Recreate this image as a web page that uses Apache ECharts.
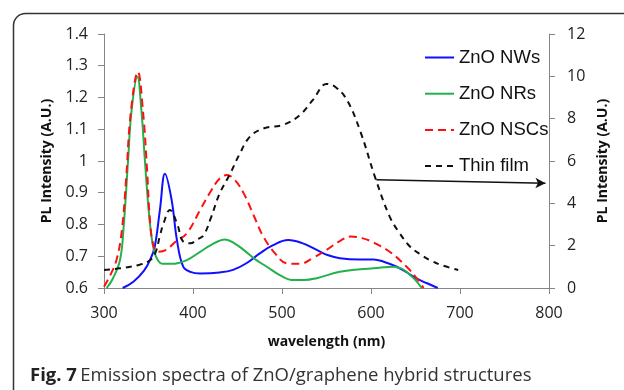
<!DOCTYPE html>
<html>
<head>
<meta charset="utf-8">
<script src="https://cdn.jsdelivr.net/npm/echarts@6/dist/echarts.min.js"></script>
<style>html,body{margin:0;padding:0;background:#fff;}#c{width:624px;height:390px;}</style>
</head>
<body>
<div id="c"></div>
<script>
// ---- data ----
const xTicks = [300, 400, 500, 600, 700, 800];
const nwX = [321, 333, 345, 352, 357, 363, 368.5, 376, 382, 389, 397, 408, 430, 445, 460, 475, 490, 507, 522, 539, 552, 565, 587, 603, 615, 629, 641, 651, 663, 675];
const nwY = [0.6, 0.62, 0.655, 0.69, 0.73, 0.85, 0.96, 0.877, 0.75, 0.667, 0.651, 0.646, 0.649, 0.657, 0.678, 0.709, 0.735, 0.751, 0.742, 0.72, 0.703, 0.694, 0.69, 0.69, 0.682, 0.667, 0.648, 0.63, 0.615, 0.6];
const nrX = [303, 310, 318, 322, 327, 331, 337.5, 342, 346, 350, 353, 356, 360, 366, 376, 393, 408, 420, 436, 447, 457, 470, 483, 498, 513, 525, 539, 565, 588, 603, 625, 635, 642, 650, 657];
const nrY = [0.6, 0.63, 0.688, 0.79, 1.0, 1.16, 1.265, 1.16, 1.0, 0.85, 0.77, 0.72, 0.69, 0.676, 0.676, 0.688, 0.714, 0.735, 0.753, 0.74, 0.72, 0.69, 0.667, 0.64, 0.625, 0.625, 0.631, 0.651, 0.659, 0.662, 0.667, 0.66, 0.646, 0.625, 0.6];
const nscX = [300, 307, 314, 320, 325, 330, 338, 344, 348, 352, 356, 361, 370, 380, 393, 408, 420, 430, 438, 447, 457, 468, 479, 492, 505, 520, 535, 550, 565, 577, 590, 603, 621, 640, 653, 659];
const nscY = [0.604, 0.64, 0.688, 0.78, 0.95, 1.15, 1.281, 1.15, 0.99, 0.8, 0.73, 0.714, 0.72, 0.745, 0.772, 0.846, 0.905, 0.945, 0.956, 0.94, 0.898, 0.83, 0.762, 0.71, 0.678, 0.676, 0.695, 0.72, 0.748, 0.762, 0.757, 0.743, 0.714, 0.667, 0.625, 0.6];
const tfX = [300, 318, 340, 352, 358, 363, 367, 374, 382, 389, 397, 405, 412, 420, 430, 442, 452, 464, 480, 501, 520, 535, 550, 560, 573, 588, 605, 621, 632, 644, 655, 666, 680, 698];
const tfY = [0.85, 0.93, 1.1, 1.32, 1.7, 2.5, 3.06, 3.69, 3.06, 2.19, 2.11, 2.3, 2.5, 3.3, 4.47, 5.42, 6.3, 7.15, 7.55, 7.7, 8.17, 8.9, 9.64, 9.5, 8.88, 7.4, 5.18, 3.37, 2.6, 1.95, 1.6, 1.32, 1.07, 0.85];
const arrowFrom = [606, 5.12];
const arrowTo = [796, 4.95];
const names = ['ZnO NWs', 'ZnO NRs', 'ZnO NSCs', 'Thin film'];
const caption = ['Fig. 7', 'Emission spectra of ZnO/graphene hybrid structures'];

const zip = (xs, ys) => xs.map((x, i) => [x, ys[i]]);
const font = 'Open Sans';
const axisGray = '#868686';

const chart = echarts.init(document.getElementById('c'), null, {renderer: 'canvas'});
chart.setOption({
  animation: false,
  backgroundColor: '#fff',
  grid: {left: 104, right: 75, top: 34, bottom: 102},
  graphic: [
    {type: 'rect', shape: {x: 13.5, y: 13.5, width: 700, height: 420, r: 12}, style: {fill: 'none', stroke: '#333', lineWidth: 1.5}, silent: true},
    {type: 'text', left: 30, top: 366, style: {rich: {b: {fontFamily: font, fontWeight: 'bold', fontSize: 18.5, fill: '#222'}, n: {fontFamily: font, fontSize: 18.5, fill: '#333'}}, text: '{b|' + caption[0] + '} {n|' + caption[1] + '}'}}
  ],
  legend: {
    data: names, orient: 'vertical', left: 419, top: 43, itemWidth: 29, itemHeight: 14, itemGap: 17.2,
    itemStyle: {opacity: 0},
    textStyle: {fontFamily: 'Liberation Sans', fontSize: 18.5, color: '#111'},
    selectedMode: false
  },
  xAxis: {
    type: 'value', min: xTicks[0], max: xTicks[xTicks.length - 1], interval: 100,
    name: 'wavelength (nm)', nameLocation: 'middle', nameGap: 47,
    nameTextStyle: {fontFamily: font, fontWeight: 'bold', fontSize: 14, color: '#111'},
    axisLine: {lineStyle: {color: axisGray}}, axisTick: {length: 6, lineStyle: {color: axisGray}},
    axisLabel: {fontFamily: font, fontSize: 16, color: '#222', margin: 17},
    splitLine: {show: false}
  },
  yAxis: [
    {
      type: 'value', min: 0.6, max: 1.4, interval: 0.1, position: 'left',
      name: 'PL Intensity (A.U.)', nameLocation: 'middle', nameGap: 50, nameRotate: 90,
      nameTextStyle: {fontFamily: font, fontWeight: 'bold', fontSize: 14, color: '#111'},
      axisLine: {show: true, lineStyle: {color: axisGray}}, axisTick: {show: true, length: 6, lineStyle: {color: axisGray}},
      axisLabel: {fontFamily: font, fontSize: 16, color: '#222', margin: 16, formatter: v => String(Number(v.toFixed(1)))},
      splitLine: {show: false}
    },
    {
      type: 'value', min: 0, max: 12, interval: 2, position: 'right',
      name: 'PL Intensity (A.U.)', nameLocation: 'middle', nameGap: 44, nameRotate: 90,
      nameTextStyle: {fontFamily: font, fontWeight: 'bold', fontSize: 14, color: '#111'},
      axisLine: {show: true, lineStyle: {color: axisGray}}, axisTick: {show: true, length: 6, lineStyle: {color: axisGray}},
      axisLabel: {fontFamily: font, fontSize: 16, color: '#222', margin: 18},
      splitLine: {show: false}
    }
  ],
  series: [
    {name: names[0], type: 'line', yAxisIndex: 0, data: zip(nwX, nwY), smooth: 0.4, symbol: 'none', color: '#1010ff', lineStyle: {width: 2, color: '#1010ff'}},
    {name: names[1], type: 'line', yAxisIndex: 0, data: zip(nrX, nrY), smooth: 0.4, symbol: 'none', color: '#22b14c', lineStyle: {width: 2, color: '#22b14c'}},
    {name: names[2], type: 'line', yAxisIndex: 0, data: zip(nscX, nscY), smooth: 0.4, symbol: 'none', color: '#ff1010', lineStyle: {width: 2, color: '#ff1010', type: [8, 5]}},
    {name: names[3], type: 'line', yAxisIndex: 1, data: zip(tfX, tfY), smooth: 0.4, symbol: 'none', color: '#111', lineStyle: {width: 2, color: '#111', type: [6, 5]},
      markLine: {silent: true, symbol: ['none', 'arrow'], symbolSize: [8, 10], label: {show: false},
        lineStyle: {type: 'solid', color: '#111', width: 1.5},
        data: [[{coord: arrowFrom}, {coord: arrowTo}]]}}
  ]
});
</script>
</body>
</html>
